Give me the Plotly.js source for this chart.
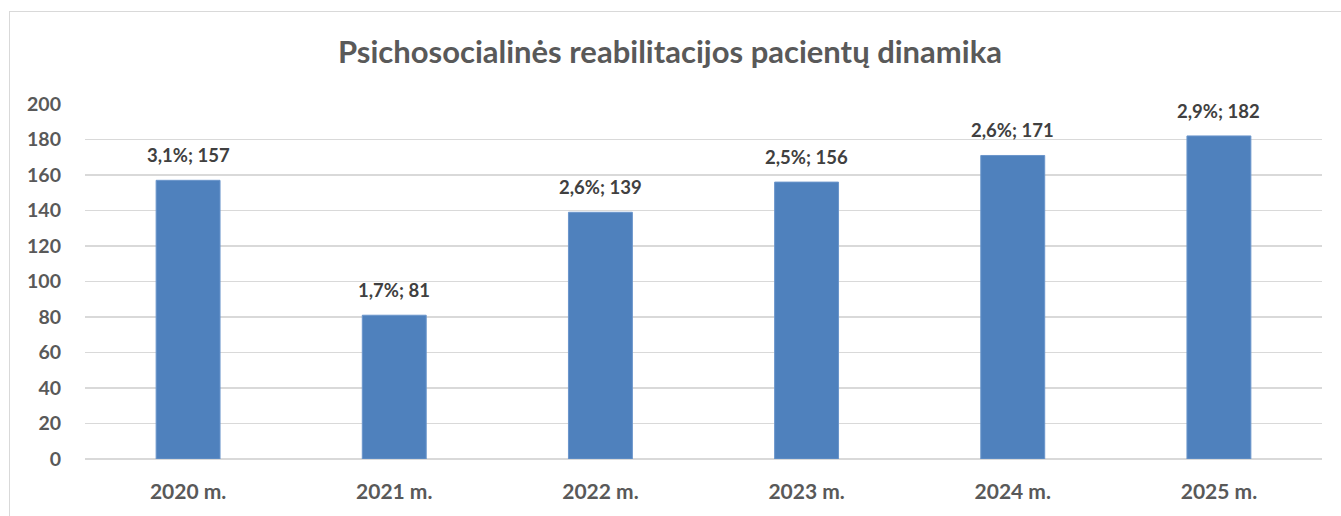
<!DOCTYPE html>
<html>
<head>
<meta charset="utf-8">
<script src="https://cdn.plot.ly/plotly-3.0.1.min.js"></script>
<style>
html,body{margin:0;padding:0;background:#fff;}
#frame{position:absolute;left:9px;top:11px;width:1340px;height:520px;border:1px solid #d9d9d9;box-sizing:border-box;}
#chart{position:absolute;left:0;top:0;width:1341px;height:516px;}
</style>
</head>
<body>
<div id="frame"></div>
<div id="chart"></div>
<script>
const categories = ["2020 m.", "2021 m.", "2022 m.", "2023 m.", "2024 m.", "2025 m."];
const patients = [157, 81, 139, 156, 171, 182];
const shares = ["3,1%", "1,7%", "2,6%", "2,5%", "2,6%", "2,9%"];
const yTicks = [0, 20, 40, 60, 80, 100, 120, 140, 160, 180, 200];

const labels = patients.map((v, i) => shares[i] + "; " + v);
const fontFamily = "Lato, 'Open Sans', 'Liberation Sans', sans-serif";

const trace = {
  type: "bar",
  x: categories,
  y: patients,
  marker: {color: "#4F81BD", line: {color: "#6A95CB", width: 1}},
  hoverinfo: "skip"
};

const annotations = categories.map((c, i) => ({
  x: c,
  y: patients[i],
  xref: "x",
  yref: "y",
  text: "<b>" + labels[i] + "</b>",
  showarrow: false,
  yanchor: "bottom",
  yshift: 12,
  font: {family: fontFamily, size: 18.5, color: "#404040"}
}));

const layout = {
  width: 1341,
  height: 516,
  paper_bgcolor: "rgba(0,0,0,0)",
  plot_bgcolor: "rgba(0,0,0,0)",
  margin: {l: 85, r: 19, t: 104, b: 57},
  bargap: 0.69,
  showlegend: false,
  annotations: annotations,
  title: {
    text: "<b>Psichosocialinės reabilitacijos pacientų dinamika</b>",
    font: {family: fontFamily, size: 31, color: "#595959"},
    x: 0.4996, xref: "container", xanchor: "center",
    y: 52, yref: "container", yanchor: "middle"
  },
  xaxis: {
    type: "category",
    tickfont: {family: fontFamily, size: 21, color: "#595959", weight: 700},
    showgrid: false,
    showline: false,
    zeroline: false,
    ticks: "",
    ticklabelstandoff: 18
  },
  yaxis: {
    range: [0, 200],
    tickvals: yTicks,
    ticktext: yTicks.map(String),
    tickfont: {family: fontFamily, size: 19.5, color: "#595959", weight: 700},
    showgrid: true,
    gridcolor: "#d9d9d9",
    gridwidth: 1.3,
    zeroline: true,
    zerolinecolor: "#d9d9d9",
    zerolinewidth: 1.3,
    showline: false,
    ticks: "",
    ticklabelstandoff: 23,
    fixedrange: true
  }
};

Plotly.newPlot("chart", [trace], layout, {displayModeBar: false, staticPlot: true});
</script>
</body>
</html>
